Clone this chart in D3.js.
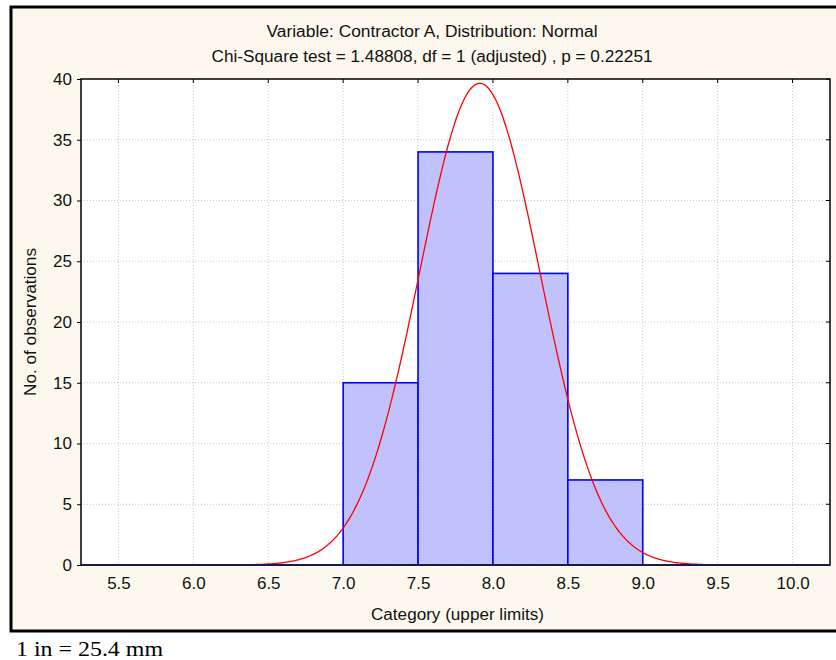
<!DOCTYPE html>
<html lang="en">
<head>
<meta charset="UTF-8">
<title>Histogram</title>
<style>
  body { margin: 0; background: #fff; }
  text { font-family: "Liberation Sans", Arial, sans-serif; }
</style>
</head>
<body>
<svg id="chart" width="836" height="660"></svg>
<script src="https://cdn.jsdelivr.net/npm/d3@7"></script>
<script>
// histogram data (upper limits of categories)
const binLower = [7.0, 7.5, 8.0, 8.5]
const binUpper = [7.5, 8.0, 8.5, 9.0]
const counts = [15, 34, 24, 7]
const xTicks = [5.5, 6.0, 6.5, 7.0, 7.5, 8.0, 8.5, 9.0, 9.5, 10.0]
const yTicks = [0, 5, 10, 15, 20, 25, 30, 35, 40]

// fitted normal
const fitMean = 7.912
const fitSd = 0.4025
const nObs = 80
const binWidth = 0.5

const titleLines = [
  "Variable: Contractor A, Distribution: Normal",
  "Chi-Square test = 1.48808, df = 1 (adjusted) , p = 0.22251"
]
const titleWidths = [331, 441]

let svg = d3.select("#chart")
let pLeft = 81, pRight = 830, pTop = 79, pBottom = 565

// frame
svg.append("rect").attr("x", 11).attr("y", 7).attr("width", 900).attr("height", 624)
   .attr("fill", "#fdf8ee").attr("stroke", "#000").attr("stroke-width", 3)

let x = d3.scaleLinear().domain([5.25, 10.25]).range([pLeft, pRight])
let y = d3.scaleLinear().domain([0, 40]).range([pBottom, pTop])

svg.append("rect").attr("x", pLeft).attr("y", pTop)
   .attr("width", pRight - pLeft).attr("height", pBottom - pTop).attr("fill", "#fff")

// hatch pattern for bars
let defs = svg.append("defs")
let pat = defs.append("pattern").attr("id", "hatch")
   .attr("patternUnits", "userSpaceOnUse").attr("width", 3).attr("height", 3)
pat.append("rect").attr("width", 3).attr("height", 3).attr("fill", "#c6c6ff")
pat.append("path").attr("d", "M0,3 L3,0 M-1,1 L1,-1 M2,4 L4,2")
   .attr("stroke", "#b2b2f6").attr("stroke-width", 0.7)

// grid
let grid = svg.append("g").attr("stroke", "#c8c8c8").attr("stroke-dasharray", "1,2")
grid.selectAll(".gx").data(xTicks).enter().append("line")
    .attr("x1", d => x(d)).attr("x2", d => x(d)).attr("y1", pTop).attr("y2", pBottom)
grid.selectAll(".gy").data(yTicks.slice(1, -1)).enter().append("line")
    .attr("y1", d => y(d)).attr("y2", d => y(d)).attr("x1", pLeft).attr("x2", pRight)

// bars
svg.selectAll(".bar").data(counts).enter().append("rect")
   .attr("x", (d, i) => x(binLower[i]))
   .attr("width", (d, i) => x(binUpper[i]) - x(binLower[i]))
   .attr("y", d => y(d))
   .attr("height", d => pBottom - y(d))
   .attr("fill", "url(#hatch)")
   .attr("stroke", "#0000ff").attr("stroke-width", 1.6)

// normal curve
let pdf = v => nObs * binWidth / (fitSd * Math.sqrt(2 * Math.PI)) *
               Math.exp(-0.5 * Math.pow((v - fitMean) / fitSd, 2))
let xs = d3.range(5.25, 10.2501, 0.01)
let line = d3.line().x(d => x(d)).y(d => y(pdf(d)))
svg.append("path").datum(xs).attr("d", line)
   .attr("fill", "none").attr("stroke", "#ff0000").attr("stroke-width", 1.3)

// axes
let axisG = svg.append("g")
axisG.append("g").attr("transform", `translate(0,${pBottom})`)
   .call(d3.axisBottom(x).tickValues(xTicks).tickSize(0).tickPadding(12).tickFormat(d3.format(".1f")))
axisG.append("g").attr("transform", `translate(${pLeft},0)`)
   .call(d3.axisLeft(y).tickValues(yTicks).tickSize(4).tickPadding(5))
axisG.selectAll("g").attr("font-size", null).attr("font-family", null)
axisG.selectAll("text").style("font-size", "17px").attr("fill", "#111")
axisG.selectAll(".domain").remove()

// top and right ticks
svg.selectAll(".tt").data(xTicks).enter().append("line")
   .attr("x1", d => x(d)).attr("x2", d => x(d)).attr("y1", pTop).attr("y2", pTop + 4)
   .attr("stroke", "#000")
svg.selectAll(".rt").data(yTicks).enter().append("line")
   .attr("y1", d => y(d)).attr("y2", d => y(d)).attr("x1", pRight - 4).attr("x2", pRight)
   .attr("stroke", "#000")

// plot border
svg.append("rect").attr("x", pLeft).attr("y", pTop)
   .attr("width", pRight - pLeft).attr("height", pBottom - pTop)
   .attr("fill", "none").attr("stroke", "#000").attr("stroke-width", 1.5)
svg.append("line").attr("x1", pLeft).attr("x2", pRight).attr("y1", pBottom).attr("y2", pBottom)
   .attr("stroke", "#1a1a4a").attr("stroke-width", 2)

// titles
svg.selectAll(".title").data(titleLines).enter().append("text")
   .attr("x", 432).attr("y", (d, i) => 37 + i * 25)
   .attr("text-anchor", "middle").style("font-size", "16px").attr("fill", "#111")
   .attr("textLength", (d, i) => titleWidths[i]).attr("lengthAdjust", "spacingAndGlyphs")
   .text(d => d)

svg.append("text").attr("x", 457.5).attr("y", 620).attr("text-anchor", "middle")
   .style("font-size", "16px").attr("fill", "#111")
   .attr("textLength", 173).attr("lengthAdjust", "spacingAndGlyphs")
   .text("Category (upper limits)")

svg.append("text").attr("transform", `translate(36,${(pTop + pBottom) / 2}) rotate(-90)`)
   .attr("text-anchor", "middle").style("font-size", "16px").attr("fill", "#111")
   .attr("textLength", 148).attr("lengthAdjust", "spacingAndGlyphs")
   .text("No. of observations")

svg.append("text").attr("x", 16).attr("y", 656)
   .style("font-family", "'Liberation Serif', 'Times New Roman', serif")
   .style("font-size", "22px").attr("fill", "#000")
   .attr("textLength", 147).attr("lengthAdjust", "spacingAndGlyphs")
   .text("1 in = 25.4 mm")
</script>
</body>
</html>
